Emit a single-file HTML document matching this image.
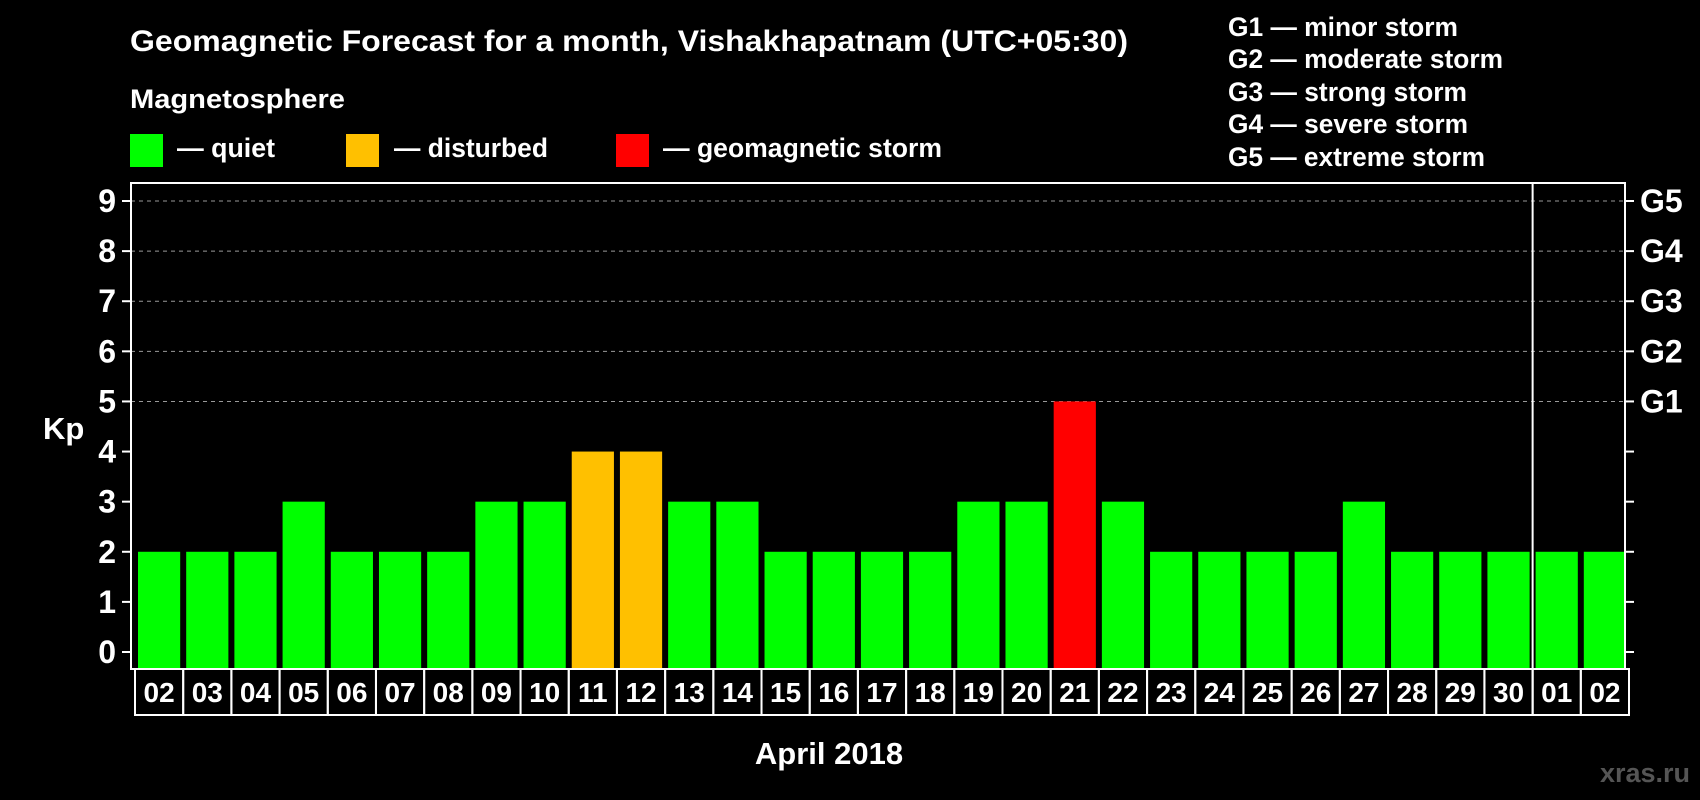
<!DOCTYPE html>
<html><head><meta charset="utf-8"><style>
body{margin:0;background:#000;width:1700px;height:800px;overflow:hidden;font-family:"Liberation Sans",sans-serif;}
svg{display:block}
</style></head><body>
<svg width="1700" height="800" font-family="Liberation Sans, sans-serif" font-weight="bold">
<text x="130" y="51" fill="#fff" font-size="30" textLength="998" lengthAdjust="spacingAndGlyphs">Geomagnetic Forecast for a month, Vishakhapatnam (UTC+05:30)</text>
<text x="130" y="108" fill="#fff" font-size="27" textLength="215" lengthAdjust="spacingAndGlyphs">Magnetosphere</text>
<rect x="130" y="134" width="33" height="33" fill="#00ff00"/>
<text x="177" y="157" fill="#fff" font-size="27" textLength="98" lengthAdjust="spacingAndGlyphs">— quiet</text>
<rect x="346" y="134" width="33" height="33" fill="#ffc000"/>
<text x="394" y="157" fill="#fff" font-size="27" textLength="154" lengthAdjust="spacingAndGlyphs">— disturbed</text>
<rect x="616" y="134" width="33" height="33" fill="#ff0000"/>
<text x="663" y="157" fill="#fff" font-size="27" textLength="279" lengthAdjust="spacingAndGlyphs">— geomagnetic storm</text>
<g fill="#fff" font-size="27">
<text x="1228" y="36" textLength="230" lengthAdjust="spacingAndGlyphs">G1 — minor storm</text>
<text x="1228" y="68" textLength="275" lengthAdjust="spacingAndGlyphs">G2 — moderate storm</text>
<text x="1228" y="101" textLength="239" lengthAdjust="spacingAndGlyphs">G3 — strong storm</text>
<text x="1228" y="133" textLength="240" lengthAdjust="spacingAndGlyphs">G4 — severe storm</text>
<text x="1228" y="166" textLength="257" lengthAdjust="spacingAndGlyphs">G5 — extreme storm</text>
</g>
<text x="43" y="439" fill="#fff" font-size="31">Kp</text>
<text x="829" y="764" fill="#fff" font-size="31" text-anchor="middle">April 2018</text>
<text x="1690" y="782" fill="#555" font-size="27" text-anchor="end">xras.ru</text>
<g id="plot"></g>
</svg>
<script>
const days=["02","03","04","05","06","07","08","09","10","11","12","13","14","15","16","17","18","19","20","21","22","23","24","25","26","27","28","29","30","01","02"];
const kp=[2,2,2,3,2,2,2,3,3,4,4,3,3,2,2,2,2,3,3,5,3,2,2,2,2,3,2,2,2,2,2];
const yTicks=[0,1,2,3,4,5,6,7,8,9];
const gLabels=["G1","G2","G3","G4","G5"];
const NS="http://www.w3.org/2000/svg";
const L=131,R=1625,T=183,B=669,Y0=652,Y9=201;
const slot=(R-L)/days.length;
const y=v=>Y0-(Y0-Y9)*v/9;
const x=i=>L+i*slot;
const g=document.getElementById('plot');
function mk(t,a){const e=document.createElementNS(NS,t);for(const k in a)e.setAttribute(k,a[k]);g.appendChild(e);return e;}
yTicks.forEach(v=>{
 if(v>=5){const l=mk('line',{x1:L,x2:R,y1:y(v),y2:y(v),stroke:'#999','stroke-dasharray':'4,4','stroke-width':1});
 
 }
 const t1=mk('line',{x1:L-9,x2:L,y1:y(v),y2:y(v),stroke:'#fff','stroke-width':2});
 
 
 const t2=mk('line',{x1:R,x2:R+9,y1:y(v),y2:y(v),stroke:'#fff','stroke-width':2});
 
 
 const tx=mk('text',{x:116,y:y(v)+11,fill:'#fff','font-size':32,'text-anchor':'end'});tx.textContent=v;
 
 
});
gLabels.forEach((s,i)=>{const tx=mk('text',{x:1640,y:y(5+i)+11,fill:'#fff','font-size':32});tx.textContent=s;
 
 });
kp.forEach((v,i)=>{
 const c=v>=5?'#ff0000':v>=4?'#ffc000':'#00ff00';
 const r=mk('rect',{x:x(i)+7,y:y(v),width:slot-6,height:B-y(v),fill:c});
 
 
 const b=mk('rect',{x:x(i)+4,y:B,width:slot,height:46,fill:'none',stroke:'#fff','stroke-width':2});
 
 
 const tx=mk('text',{x:x(i)+4+slot/2,y:B+33,fill:'#fff','font-size':28,'text-anchor':'middle'});tx.textContent=days[i];
 
 
});
const fr=mk('rect',{x:L,y:T,width:R-L,height:B-T,fill:'none',stroke:'#fff','stroke-width':2});


const mi=days.indexOf("01");
const md=mk('line',{x1:x(mi)+4,x2:x(mi)+4,y1:T,y2:B+46,stroke:'#fff','stroke-width':2});


</script>
</body></html>
